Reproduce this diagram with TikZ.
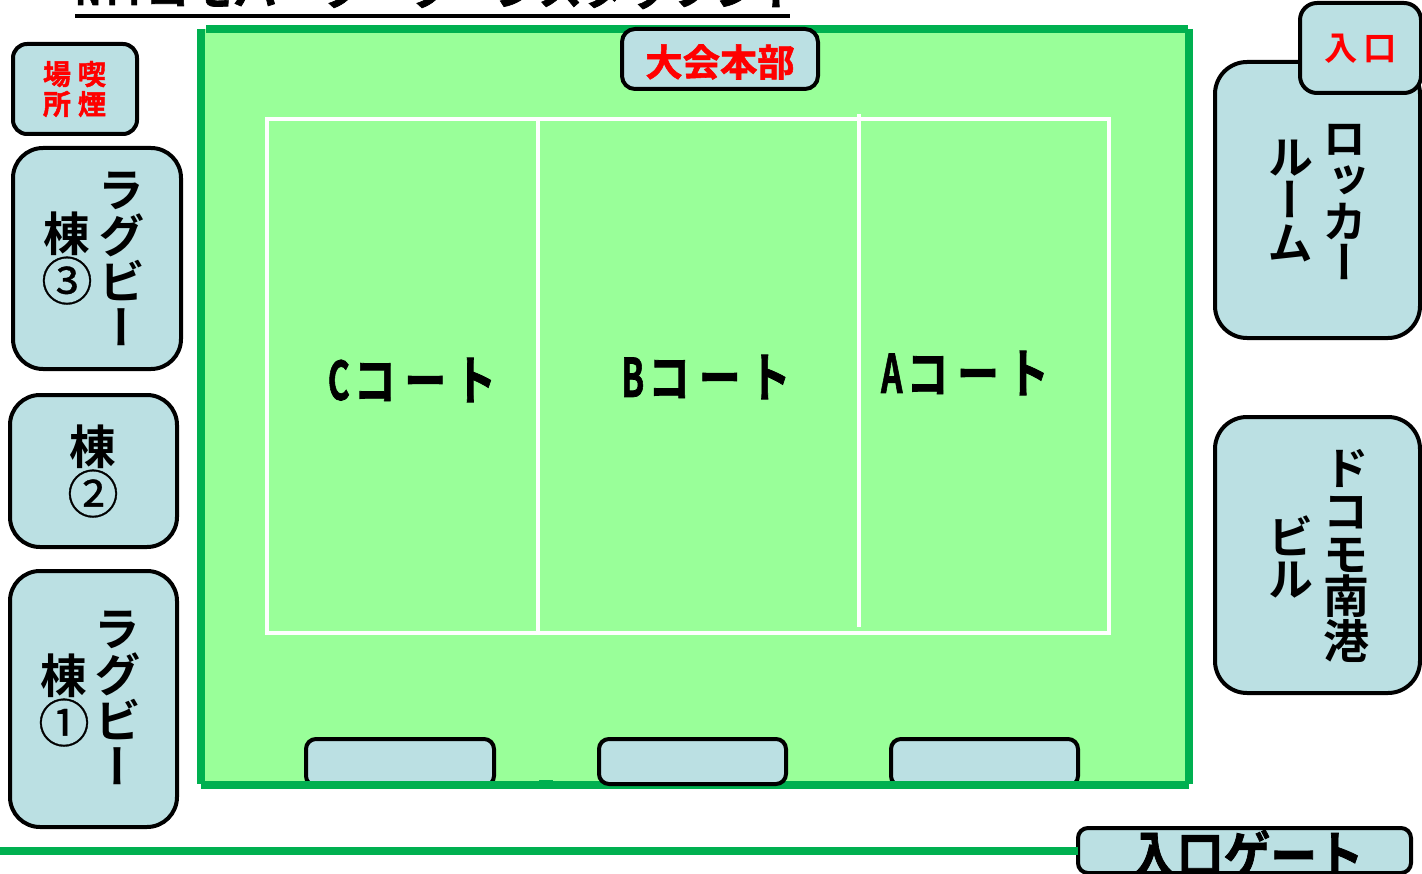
\documentclass[tikz,border=0pt]{standalone}
\usepackage{fontspec}
\setmainfont{Noto Sans CJK JP}[BoldFont={* Bold}]
\newfontfamily\vfont{Noto Sans CJK JP Bold}[RawFeature=+vert]
\newfontfamily\hfont{Noto Sans CJK JP Bold}
\newfontfamily\hvfont{Noto Sans CJK JP Bold}[FakeBold=1.5]
\newfontfamily\ringfont{Noto Sans CJK JP}[FakeBold=0.6]
\newcommand{\vtext}[2]{\fontsize{#1}{#2}\selectfont\vfont}
\newcommand{\ringed}[1]{\scalebox{1.12}{\ringfont\fontsize{34.5}{34.5}\selectfont #1}}
\newcommand{\courtname}[1]{\scalebox{0.68}[1.08]{#1}\hspace{3pt}\scalebox{0.85}[1.05]{コ}\hspace{6.5pt}\scalebox{0.85}[1.05]{ー}\hspace{6pt}\scalebox{0.85}[1.08]{ト}}
\definecolor{parkgreen}{HTML}{00B050}
\definecolor{turf}{HTML}{99FF99}
\definecolor{roomfill}{HTML}{BBE0E3}
\newcommand{\roombox}[6]{%
  \node[roomstyle,rounded corners=#6*0.75pt,
        minimum width={(#4-#2)*0.75pt},minimum height={(#5-#3)*0.75pt}]
        (#1) at ({(#2+#4)/2},{(#3+#5)/2}) {};}
\tikzset{
  x=0.75pt,y=-0.75pt,
  roomstyle/.style={draw=black,fill=roomfill,line width=3pt,inner sep=0pt,outer sep=0pt},
  edgeline/.style={draw=parkgreen,line width=6pt,line cap=butt},
  courtline/.style={draw=white,line width=3.4pt},
  vlabel/.style={inner sep=0pt,outer sep=0pt,align=center,text=black},
  courtlabel/.style={inner sep=0pt,outer sep=0pt,text=black,font=\hvfont\fontsize{37}{37}\selectfont},
  redlabel/.style={inner sep=0pt,outer sep=0pt,text=red},
}
\begin{document}
\begin{tikzpicture}
\useasboundingbox (0,0) rectangle (1422,874);
\clip (0,0) rectangle (1422,874);
% field
\fill[turf] (201,29) rectangle (1189,784);
\roombox{benchone}{306}{739}{494}{786}{10}
\roombox{benchthree}{891}{739}{1078}{786}{10}
\draw[edgeline] (201,29) -- (201,784);
\draw[edgeline] (206,29) -- (1188,29);
\draw[edgeline] (1189,29) -- (1189,784);
\draw[edgeline] (201,784.5) -- (1189,784.5);
\fill[parkgreen] (539,780) rectangle (553,789);
\roombox{benchtwo}{599}{739}{786}{784}{10}
% court
\draw[courtline] (267,119) rectangle (1109,633);
\draw[courtline] (538,119) -- (538,633);
\draw[courtline] (859,114) -- (859,627);
\node[courtlabel] (courtc) at (412,380) {\courtname{C}};
\node[courtlabel] (courtb) at (706,377) {\courtname{B}};
\node[courtlabel] (courta) at (965,373) {\courtname{A}};
% title
\node[inner sep=0pt,outer sep=0pt,anchor=base west,font=\hvfont\fontsize{33}{33}\selectfont] (title) at (75,5)
  {\scalebox{0.8}[1]{NTT}コモパーク　クーンスタッフント};
\draw[line width=2.6pt,draw=black] (title.base west |- 0,16) -- (790,16);
% top
\roombox{hq}{622}{29}{818}{89}{13}
\node[redlabel,font=\hvfont\fontsize{28}{28}\selectfont] (hqtext) at (720,62) {大会本部};
% left
\roombox{smoke}{13}{44}{137}{134}{14}
\node[redlabel,align=center,font=\hvfont\fontsize{21}{22.5}\selectfont] (smokeb) at (92,89) {喫\\煙};
\node[redlabel,align=center,font=\hvfont\fontsize{21}{22.5}\selectfont] (smokea) at (57,89) {場\\所};
\roombox{rugbythree}{13}{148}{181}{369}{30}
\node[vlabel,font=\vtext{35}{34.5}] (rthreea) at (122,259) {ラ\\グ\\ビ\\ー};
\node[vlabel,font=\vtext{35}{35}] (rthreeb) at (67,258) {棟\\\ringed{③}};
\roombox{rugbytwo}{10}{395}{177}{547}{30}
\node[vlabel,font=\vtext{35}{35}] (rtwob) at (93,471) {棟\\\ringed{②}};
\roombox{rugbyone}{10}{571}{177}{827}{30}
\node[vlabel,font=\vtext{35}{34.5}] (ronea) at (118,698) {ラ\\グ\\ビ\\ー};
\node[vlabel,font=\vtext{35}{35}] (roneb) at (64,700) {棟\\\ringed{①}};
% right
\roombox{locker}{1215}{62}{1420}{338}{32}
\node[vlabel,font=\vtext{33.5}{31}] (lockera) at (1345,202) {ロ\\ッ\\カ\\ー};
\node[vlabel,font=\vtext{34.5}{32.5}] (lockerb) at (1290,201) {ル\\ー\\ム};
\roombox{door}{1300}{3}{1421}{93}{17}
\node[redlabel,font=\hfont\fontsize{25}{25}\selectfont] (doortext) at (1361,49) {入\,口};
\roombox{docomo}{1215}{417}{1420}{693}{32}
\node[vlabel,font=\vtext{34.5}{32}] (docomoa) at (1346,556) {ド\\コ\\モ\\南\\港};
\node[vlabel,font=\vtext{34.5}{32}] (docomob) at (1290,557) {ビ\\ル};
% gate
\roombox{gate}{1078}{828}{1411}{873}{10}
\coordinate (lineleft) at (0,850.5);
\draw[edgeline] (lineleft) -- (gate.west);
\node[inner sep=0pt,outer sep=0pt,font=\hvfont\fontsize{35}{35}\selectfont] (gatetext) at (1247,855) {\scalebox{1}[1.15]{入口ゲート}};
\end{tikzpicture}
\end{document}
